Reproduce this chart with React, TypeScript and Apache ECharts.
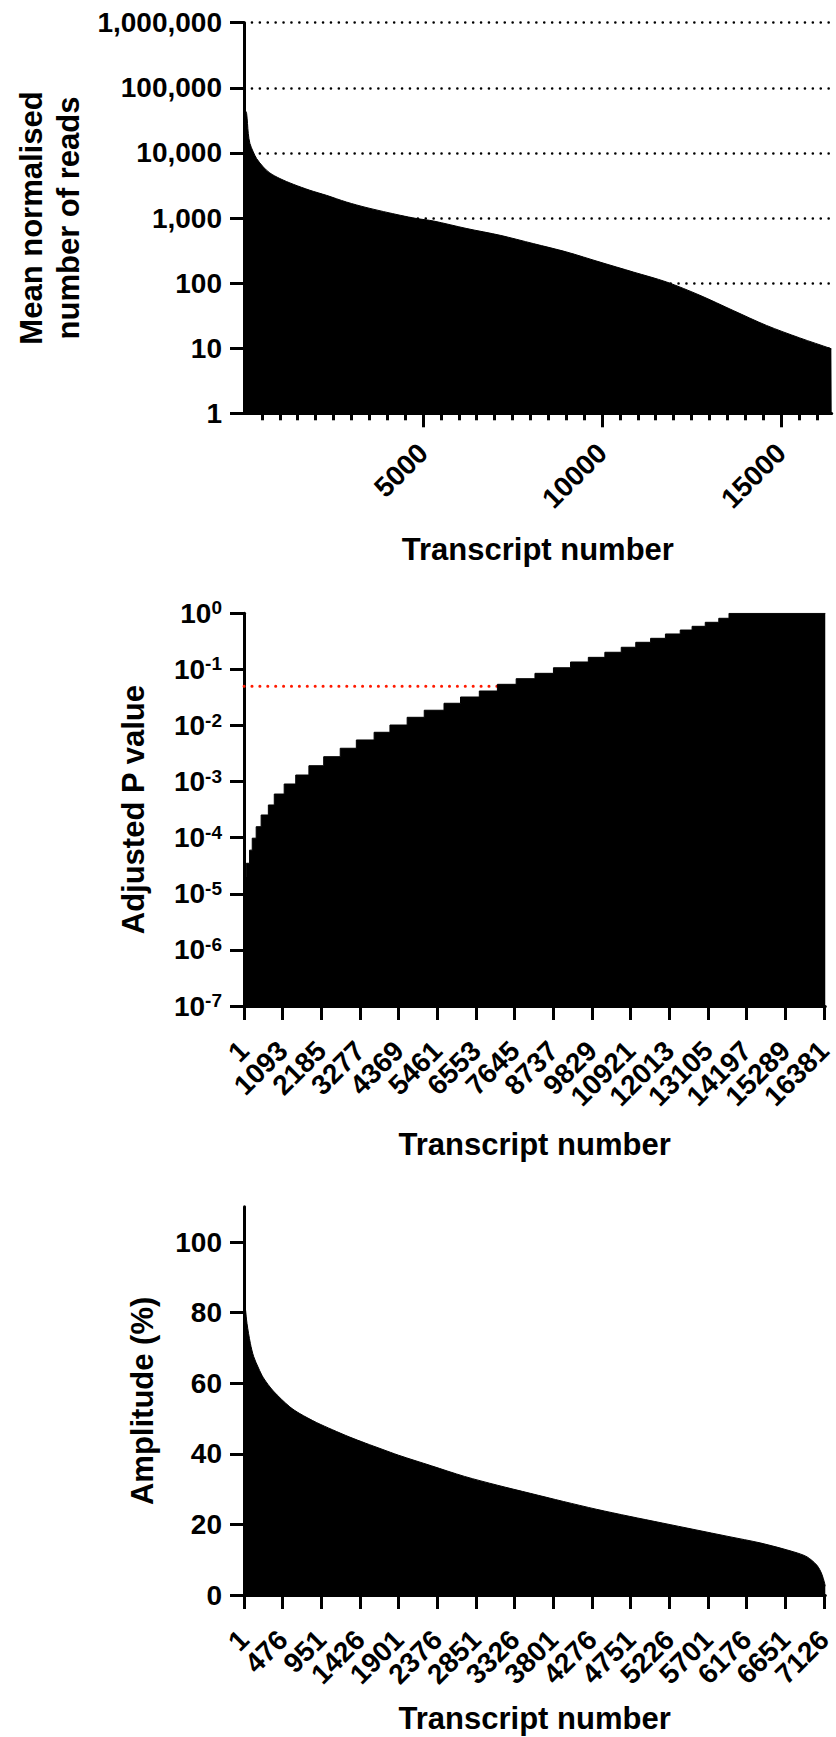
import React, { useEffect, useRef } from "react";
import * as echarts from "echarts";

// Panel A: mean normalised read counts, transcripts ranked from highest to lowest
const READS_RANK = [1, 30, 73, 120, 165, 259, 351, 538, 722, 1001, 1375, 1838, 2303, 2861, 3436, 4366, 4830, 5288, 6226, 7156, 8084, 9016, 9944, 10873, 11803, 12733, 13662, 14592, 15521, 16405, 16415];
const READS_MEAN = [55000, 46000, 40400, 19900, 13960, 10350, 8200, 6090, 4920, 4040, 3300, 2670, 2230, 1760, 1440, 1100, 980, 900, 688, 542, 404, 300, 210, 148, 104, 65, 38, 22.4, 14.4, 9.8, 9.6];
const READS_X_LABELS = [5000, 10000, 15000];

// Panel B: adjusted P values (ranked), each entry starts a plateau
const P_RANK = [1, 65, 157, 233, 344, 484, 688, 855, 1135, 1461, 1833, 2251, 2718, 3173, 3675, 4122, 4608, 5091, 5649, 6115, 6646, 7157, 7687, 8218, 8740, 9223, 9725, 10192, 10655, 11065, 11484, 11903, 12321, 12656, 13028, 13410, 13698, 16417];
const P_ADJ = [2.0e-5, 3.5e-5, 6.0e-5, 9.8e-5, 1.57e-4, 2.54e-4, 3.83e-4, 6.0e-4, 9.06e-4, 1.31e-3, 1.92e-3, 2.78e-3, 3.93e-3, 5.52e-3, 7.57e-3, 0.0102, 0.014, 0.0187, 0.0249, 0.0322, 0.0412, 0.0542, 0.0683, 0.0851, 0.107, 0.1355, 0.164, 0.202, 0.248, 0.304, 0.358, 0.428, 0.503, 0.586, 0.691, 0.815, 1, 1];
const P_THRESHOLD = 0.05;
const P_X_TICKS = [1, 1093, 2185, 3277, 4369, 5461, 6553, 7645, 8737, 9829, 10921, 12013, 13105, 14197, 15289, 16381];

// Panel C: rhythm amplitude (%), ranked
const AMP_RANK = [1, 17, 37, 78, 118, 178, 239, 360, 563, 685, 888, 1089, 1292, 1495, 1696, 1899, 2303, 2709, 3114, 3518, 3924, 4328, 4733, 5138, 5542, 5947, 6352, 6757, 6918, 7040, 7100, 7134, 7142];
const AMP_PCT = [83, 81.1, 76.9, 71.3, 67.6, 64.3, 61.5, 57.8, 53.3, 51.4, 48.9, 46.8, 44.8, 43.0, 41.3, 39.6, 36.6, 33.6, 31.1, 28.8, 26.5, 24.3, 22.3, 20.4, 18.5, 16.6, 14.7, 12.2, 10.8, 8.4, 5.9, 3.3, 2.5];
const AMP_X_TICKS = [1, 476, 951, 1426, 1901, 2376, 2851, 3326, 3801, 4276, 4751, 5226, 5701, 6176, 6651, 7126];
const AMP_Y_TICKS = [0, 20, 40, 60, 80, 100];

const FONT = "'Liberation Sans', Arial, Helvetica, sans-serif";
const BLACK = "#000000";

const axisLine = { show: true, lineStyle: { color: BLACK, width: 3 } };
const tickStyle = { show: true, length: 14, lineStyle: { color: BLACK, width: 3 } };
const labelStyle = { color: BLACK, fontFamily: FONT, fontWeight: "bold" as const, fontSize: 28 };
const nameStyle = { color: BLACK, fontFamily: FONT, fontWeight: "bold" as const, fontSize: 31, lineHeight: 36 };
const dotted = { width: 2.5, type: [0.1, 7.8], cap: "round" as const };

const GRID_LEFT = 244;
const GRID_WIDTH = 587.7;

export default function App() {
  const ref = useRef<HTMLDivElement>(null);

  useEffect(() => {
    if (!ref.current) return;
    const chart = echarts.init(ref.current, undefined, { renderer: "svg" });

    // The axis ends get blank placeholder entries, so the end-label overlap
    // rule drops those placeholders instead of a real tick label.
    const bottomAxis = (
      gridIndex: number,
      min: number,
      max: number,
      ticks: number[],
      gap: number,
      padEnds: boolean,
      labelMargin: number
    ) => {
      const values = padEnds ? [min, ...ticks, max] : ticks;
      return {
        gridIndex,
        type: "value",
        min,
        max,
        axisLine,
        axisTick: { ...tickStyle, customValues: values },
        axisLabel: {
          ...labelStyle,
          rotate: 45,
          margin: labelMargin,
          showMinLabel: padEnds ? false : undefined,
          showMaxLabel: padEnds ? false : undefined,
          hideOverlap: false,
          customValues: values,
          formatter: (v: number) => (ticks.indexOf(v) >= 0 ? String(v) : ""),
        },
        splitLine: { show: false },
        name: "Transcript number",
        nameLocation: "middle",
        nameGap: gap,
        nameTextStyle: nameStyle,
      };
    };

    const areaLine = (xi: number, ranks: number[], values: number[]) => ({
      type: "line",
      xAxisIndex: xi,
      yAxisIndex: xi,
      data: ranks.map((r, i) => [r, values[i]]),
      symbol: "none",
      smooth: 0.3,
      lineStyle: { color: BLACK, width: 1 },
      areaStyle: { color: BLACK, opacity: 1, origin: "start" },
      silent: true,
      z: 2,
    });

    const option = {
      animation: false,
      backgroundColor: "#ffffff",
      grid: [
        { left: GRID_LEFT, top: 22.7, width: GRID_WIDTH, height: 390.6 },
        { left: GRID_LEFT, top: 613.3, width: GRID_WIDTH, height: 392.7 },
        { left: GRID_LEFT, top: 1206.7, width: GRID_WIDTH, height: 391 },
      ],
      xAxis: [
        {
          ...bottomAxis(0, 0, 16415, READS_X_LABELS, 118, false, 35),
          interval: 5000,
          minorTick: { show: true, splitNumber: 10, length: 7, lineStyle: { color: BLACK, width: 3 } },
          minorSplitLine: { show: false },
        },
        bottomAxis(1, 0, 16417, P_X_TICKS, 120, true, 40),
        bottomAxis(2, 0, 7142, AMP_X_TICKS, 105, true, 40),
      ],
      yAxis: [
        {
          gridIndex: 0,
          type: "log",
          logBase: 10,
          min: 1,
          max: 1000000,
          splitNumber: 6,
          axisLine,
          axisTick: tickStyle,
          axisLabel: {
            ...labelStyle,
            margin: 22,
            formatter: (v: number) => Math.round(v).toLocaleString("en-US"),
          },
          splitLine: { show: true, lineStyle: { color: BLACK, ...dotted } },
          name: "Mean normalised\nnumber of reads",
          nameLocation: "middle",
          nameGap: 156,
          nameTextStyle: { ...nameStyle, lineHeight: 37 },
        },
        {
          gridIndex: 1,
          type: "log",
          logBase: 10,
          min: 1e-7,
          max: 1,
          splitNumber: 7,
          axisLine,
          axisTick: tickStyle,
          axisLabel: {
            margin: 22,
            formatter: (v: number) => `{b|10}{s|${Math.round(Math.log10(v))}}`,
            rich: {
              b: { ...labelStyle, lineHeight: 30 },
              s: { ...labelStyle, fontSize: 19, lineHeight: 19, verticalAlign: "top" },
            },
          },
          splitLine: { show: false },
          name: "Adjusted P value",
          nameLocation: "middle",
          nameGap: 93,
          nameTextStyle: nameStyle,
        },
        {
          gridIndex: 2,
          type: "value",
          min: 0,
          max: 110,
          axisLine,
          axisTick: { ...tickStyle, customValues: AMP_Y_TICKS },
          axisLabel: { ...labelStyle, margin: 22, customValues: AMP_Y_TICKS },
          splitLine: { show: false },
          name: "Amplitude (%)",
          nameLocation: "middle",
          nameGap: 84,
          nameTextStyle: nameStyle,
        },
      ],
      series: [
        areaLine(0, READS_RANK, READS_MEAN),
        {
          type: "line",
          xAxisIndex: 1,
          yAxisIndex: 1,
          data: [
            [P_RANK[0], P_THRESHOLD],
            [P_RANK[P_RANK.length - 1], P_THRESHOLD],
          ],
          symbol: "none",
          lineStyle: { color: "#ff1a00", width: 3, type: [0.1, 7.8], cap: "round" },
          silent: true,
          z: 1,
        },
        {
          type: "line",
          xAxisIndex: 1,
          yAxisIndex: 1,
          data: P_RANK.map((r, i) => [r, P_ADJ[i]]),
          step: "end",
          symbol: "none",
          lineStyle: { color: BLACK, width: 1 },
          areaStyle: { color: BLACK, opacity: 1, origin: "start" },
          silent: true,
          z: 2,
        },
        areaLine(2, AMP_RANK, AMP_PCT),
      ],
    };

    chart.setOption(option as any);
    return () => chart.dispose();
  }, []);

  return (
    <div
      ref={ref}
      style={{ position: "absolute", left: 0, top: 0, width: 836, height: 1737, background: "#ffffff" }}
    />
  );
}
